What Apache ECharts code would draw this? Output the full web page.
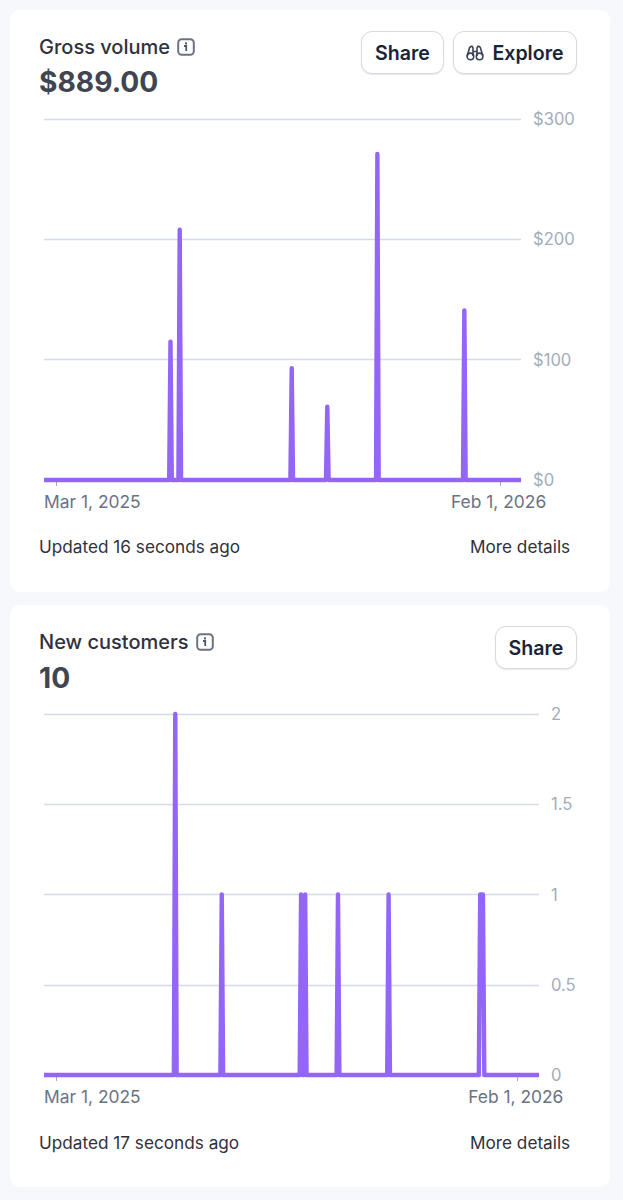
<!DOCTYPE html>
<html><head><meta charset="utf-8">
<style>
html,body{margin:0;padding:0;background:#f6f8fb;width:623px;height:1200px;overflow:hidden;font-family:Inter,sans-serif}
.card{position:absolute;left:10px;width:600px;height:582px;background:#fff;border-radius:10px}
#c{position:absolute;left:0;top:0;width:623px;height:1200px}
.t{position:absolute;white-space:nowrap;line-height:1}
.title{left:39px;font-size:20px;font-weight:500;color:#30313d}
.big{left:39px;font-size:28.2px;font-weight:700;color:#414552}
.foot{font-size:17.2px;color:#30313d}
.btn{position:absolute;box-sizing:border-box;height:43px;border:1.5px solid #d5dbe1;border-radius:11px;background:#fff;box-shadow:0 1px 1px rgba(60,66,87,.12);font-size:19.6px;font-weight:600;color:#1a2438;display:flex;align-items:center;justify-content:center;gap:8px}
.ic{position:absolute}
</style></head><body>
<div class="card" style="top:10px"></div>
<div class="card" style="top:605px"></div>
<div id="c"></div>

<div class="t title" style="top:37px">Gross volume</div>
<svg class="ic" style="left:177px;top:38px" width="18" height="18" viewBox="0 0 18 18" fill="none"><rect x="1.2" y="1.2" width="15.6" height="15.6" rx="3.5" stroke="#6a7383" stroke-width="2"/><rect x="8" y="4.4" width="2" height="2" fill="#4f566b"/><path d="M7 8h2.2v5" stroke="#4f566b" stroke-width="1.8"/></svg>
<div class="t big" style="top:68px">$889.00</div>
<div class="btn" style="left:361px;top:31px;width:83px">Share</div>
<div class="btn" style="left:453px;top:31px;width:124px"><svg width="18" height="18" viewBox="0 0 18 18" fill="none" stroke="#3c4257" stroke-width="1.6"><circle cx="4.4" cy="12.4" r="3.3"/><circle cx="13.6" cy="12.4" r="3.3"/><path d="M1.2 12 3.6 3.6Q4.4 2 6.2 2.4L7 4v8M16.8 12 14.4 3.6Q13.6 2 11.8 2.4L11 4v8M7 7.5h4"/></svg>Explore</div>
<div class="t foot" style="left:39px;top:538px">Updated 16 seconds ago</div>
<div class="t foot" style="left:470px;top:538px">More details</div>

<div class="t title" style="top:632px">New customers</div>
<svg class="ic" style="left:196px;top:633px" width="18" height="18" viewBox="0 0 18 18" fill="none"><rect x="1.2" y="1.2" width="15.6" height="15.6" rx="3.5" stroke="#6a7383" stroke-width="2"/><rect x="8" y="4.4" width="2" height="2" fill="#4f566b"/><path d="M7 8h2.2v5" stroke="#4f566b" stroke-width="1.8"/></svg>
<div class="t big" style="top:664px">10</div>
<div class="btn" style="left:495px;top:626px;width:82px">Share</div>
<div class="t foot" style="left:39px;top:1134px">Updated 17 seconds ago</div>
<div class="t foot" style="left:470px;top:1134px">More details</div>

<script src="https://cdn.jsdelivr.net/npm/echarts@6/dist/echarts.min.js"></script>
<script>
const axisStart = '2025-02-20';
const axisEnd = '2026-02-17';
const tickDates = ['2025-03-01', '2026-02-01'];
const tickLabels = ['Mar 1, 2025', 'Feb 1, 2026'];

const volumeDates = ['2025-05-27', '2025-06-03', '2025-08-27', '2025-09-23', '2025-10-31', '2026-01-05'];
const volumeValues = [115, 208, 93, 61, 271, 141];

const customerDates = ['2025-05-27', '2025-06-30', '2025-08-27', '2025-08-30', '2025-09-23', '2025-10-30', '2026-01-05', '2026-01-06', '2026-01-07'];
const customerValues = [2, 1, 1, 1, 1, 1, 1, 1, 1];

const DAY = 86400000;
const ms = d => Date.parse(d + 'T00:00:00Z');
const minT = ms(axisStart), maxT = ms(axisEnd);
function daily(dates, values) {
  const lookup = {};
  dates.forEach((d, i) => lookup[ms(d)] = values[i]);
  const out = [];
  for (let t = minT; t <= maxT; t += DAY) out.push([t, lookup[t] || 0]);
  return out;
}
const LINE = '#9366f7';
function xAxis(gridIndex) {
  return {
    type: 'value', gridIndex, min: minT, max: maxT,
    axisLine: {show: false},
    splitLine: {show: false},
    axisTick: {show: true, length: 6, lineStyle: {color: '#a3acba', width: 1}, customValues: tickDates.map(ms)},
    axisLabel: {
      customValues: [minT, ms(tickDates[1]) - DAY],
      alignMinLabel: 'left',
      showMinLabel: true, showMaxLabel: true, hideOverlap: false,
      formatter: v => v === minT ? tickLabels[0] : tickLabels[1],
      color: '#6a7383', fontFamily: 'Inter', fontSize: 17.4, margin: 13
    }
  };
}
function yAxis(gridIndex, max, interval, fmt) {
  return {
    type: 'value', gridIndex, position: 'right', min: 0, max, interval,
    axisLine: {show: false}, axisTick: {show: false},
    splitLine: {show: true, lineStyle: {color: '#d3dbe8', width: 1.3}},
    axisLabel: {color: '#a3acba', fontFamily: 'Inter', fontSize: 16.6, margin: 12, align: 'left', formatter: fmt}
  };
}
function line(i, data) {
  return {
    type: 'line', xAxisIndex: i, yAxisIndex: i, data, showSymbol: false, symbol: 'none',
    clip: false, animation: false, smooth: false,
    lineStyle: {color: LINE, width: 4.4, join: 'round', cap: 'butt'}, silent: true
  };
}
const chart = echarts.init(document.getElementById('c'), null, {renderer: 'svg'});
chart.setOption({
  animation: false,
  grid: [
    {left: 44, top: 119, width: 477, height: 361},
    {left: 44, top: 714, width: 495, height: 361}
  ],
  xAxis: [xAxis(0), xAxis(1)],
  yAxis: [yAxis(0, 300, 100, v => '$' + v), yAxis(1, 2, 0.5, v => String(v))],
  series: [line(0, daily(volumeDates, volumeValues)), line(1, daily(customerDates, customerValues))]
});
</script>
</body></html>
